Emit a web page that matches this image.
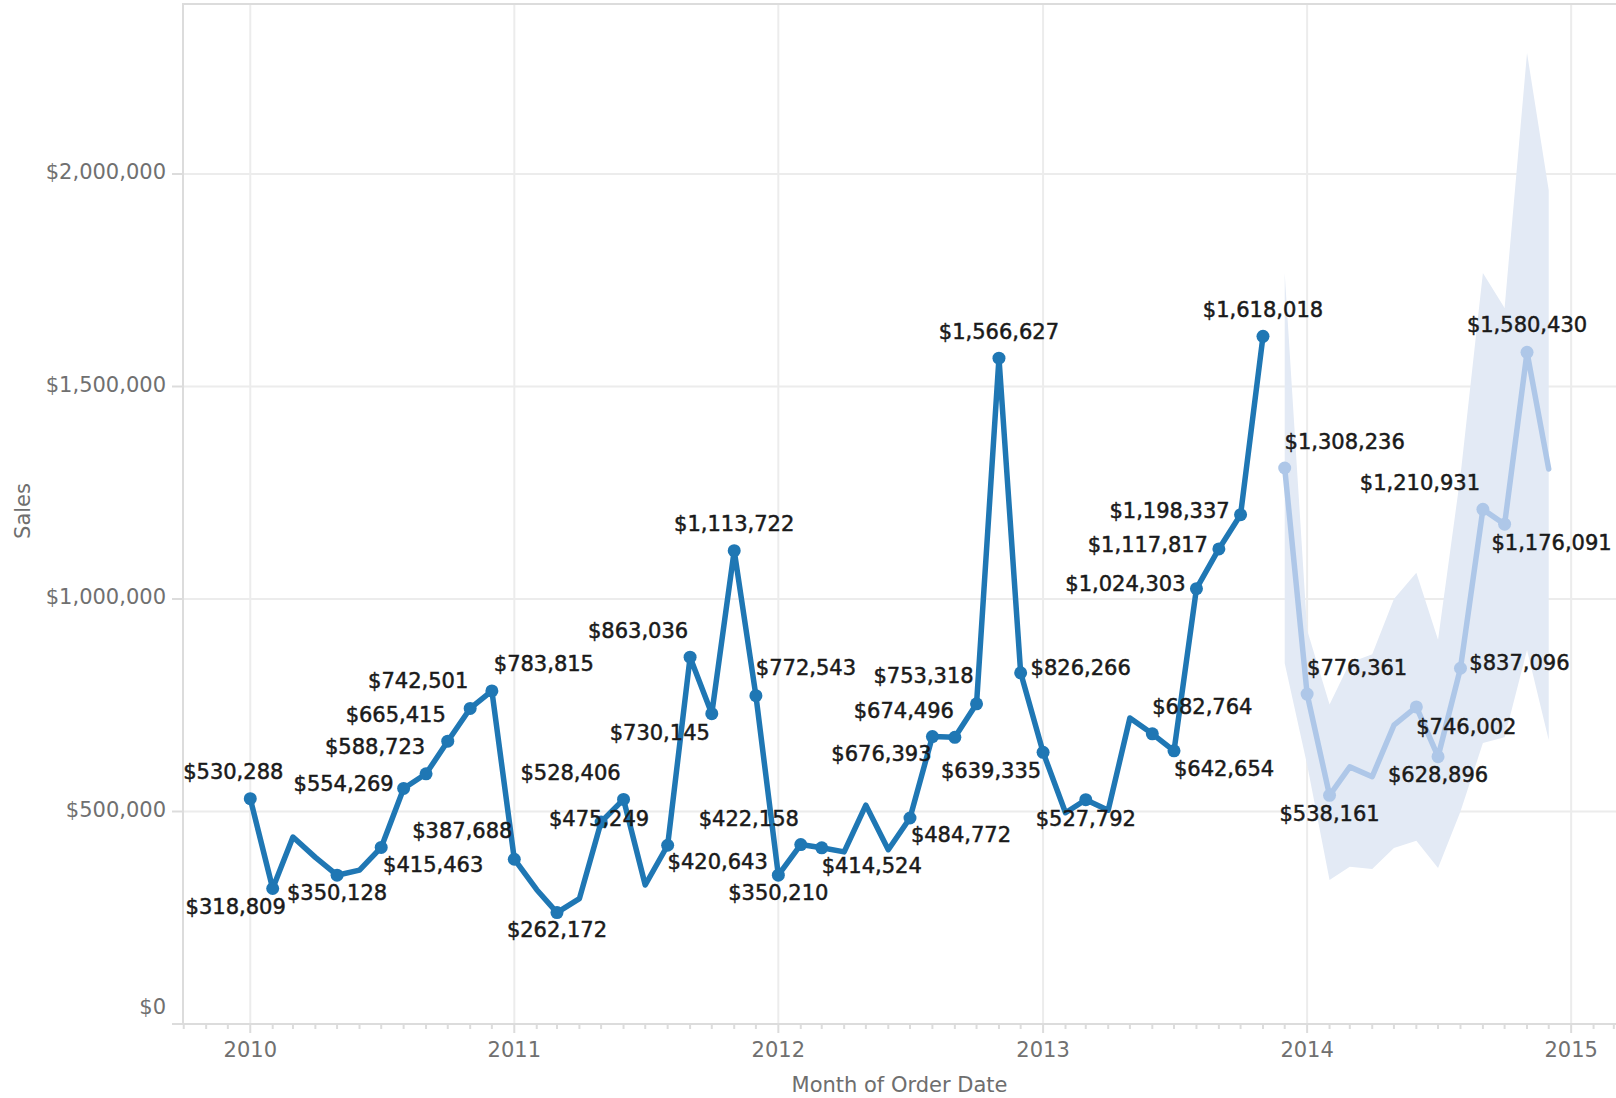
<!DOCTYPE html>
<html lang="en">
  <head>
    <meta charset="UTF-8" />
    <title>Sales by Month of Order Date with Forecast</title>
    <script src="https://d3js.org/d3.v7.min.js"></script>
    <style>
      body {
        margin: 0;
        padding: 0;
        background-color: #ffffff;
        font-family: "DejaVu Sans", Verdana, sans-serif;
      }

      .grid line {
        stroke: #ececec;
        stroke-width: 2px;
      }

      .frame {
        stroke: #dcdcdc;
        stroke-width: 2px;
      }

      .tick-label {
        font-size: 21px;
        fill: #707070;
      }

      .axis-title {
        font-size: 21px;
        fill: #6e6e6e;
      }

      .value-label {
        font-size: 21px;
        fill: #1a1a1a;
        stroke: #1a1a1a;
        stroke-width: 0.5px;
      }
    </style>
  </head>
  <body>
    <svg id="chart"></svg>

    <script>
      const width = 1616;
      const height = 1098;

      // Actual sales, Jan 2010 .. Nov 2013
      const actualStart = new Date(2010, 0, 1);
      const actualSales = [
        530288, 318809, 440000, 392000, 350128, 362000, 415463, 554269,
        588723, 665415, 742501, 783815,
        387688, 316000, 262172, 295000, 475249, 528406, 327000, 420643,
        863036, 730145, 1113722, 772543,
        350210, 422158, 414524, 405000, 515000, 410000, 484772, 676393,
        674496, 753318, 1566627, 826266,
        639335, 497000, 527792, 503000, 720000, 682764, 642654, 1024303,
        1117817, 1198337, 1618018,
      ];

      // Forecast, Dec 2013 .. Dec 2014, with prediction band
      const forecastStart = new Date(2013, 11, 1);
      const forecastSales = [
        1308236, 776361, 538161, 605000, 582000, 703000, 746002, 628896,
        837096, 1210931, 1176091, 1580430, 1306000,
      ];
      const forecastUpper = [
        1767000, 927000, 752000, 850000, 870000, 1000000, 1062000, 904000,
        1290000, 1767000, 1685000, 2285000, 1962000,
      ];
      const forecastLower = [
        849000, 610000, 339000, 370000, 365000, 414000, 431000, 367000,
        500000, 661000, 675000, 880000, 668000,
      ];

      const yTicks = [0, 500000, 1000000, 1500000, 2000000];
      const yearTicks = [2010, 2011, 2012, 2013, 2014, 2015];

      // which points carry a value label, and where the label sits (px from the mark)
      const actualLabelSpots = [
        [0, -17, -27], [1, -37, 18], [4, 0, 18], [6, 52, 18], [7, -60, -4],
        [8, -51, -27], [9, -52, -26], [10, -52, -27], [11, 52, -27],
        [12, -52, -28], [14, 0, 17], [16, -2, -3], [17, -53, -26],
        [19, 50, 17], [20, -52, -26], [21, -52, 19], [22, 0, -27],
        [23, 50, -28], [24, 0, 18], [25, -52, -26], [26, 50, 18],
        [30, 51, 17], [31, -51, 17], [32, -51, -26], [33, -53, -28],
        [34, 0, -26], [35, 60, -5], [36, -52, 19], [38, 0, 19],
        [41, 50, -27], [42, 50, 18], [43, -71, -5], [44, -71, -4],
        [45, -71, -4], [46, 0, -26],
      ];
      const forecastLabelSpots = [
        [0, 60, -26], [1, 50, -26], [2, 0, 19], [6, 50, 20], [7, 0, 18],
        [8, 59, -5], [9, -63, -26], [10, 47, 19], [11, 0, -27],
      ];

      const monthDate = (start, i) => d3.timeMonth.offset(start, i);

      const actual = actualSales.map((v, i) => ({
        date: monthDate(actualStart, i),
        value: v,
      }));
      const forecast = forecastSales.map((v, i) => ({
        date: monthDate(forecastStart, i),
        value: v,
        lo: forecastLower[i],
        hi: forecastUpper[i],
      }));

      const plot = { left: 183, right: width, top: 4, bottom: 1024 };

      const x = d3
        .scaleTime()
        .domain([new Date(2009, 8, 30), new Date(2015, 2, 4)])
        .range([plot.left, plot.right]);

      const y = d3
        .scaleLinear()
        .domain([0, 2400000])
        .range([plot.bottom, plot.top]);

      const fmt = d3.format("$,.0f");

      const svg = d3
        .select("#chart")
        .attr("width", width)
        .attr("height", height);

      // gridlines
      const grid = svg.append("g").attr("class", "grid");
      grid
        .selectAll(".hgrid")
        .data(yTicks.filter((d) => d > 0))
        .enter()
        .append("line")
        .attr("x1", plot.left)
        .attr("x2", plot.right)
        .attr("y1", (d) => y(d))
        .attr("y2", (d) => y(d));
      grid
        .selectAll(".vgrid")
        .data(yearTicks)
        .enter()
        .append("line")
        .attr("x1", (d) => x(new Date(d, 0, 1)))
        .attr("x2", (d) => x(new Date(d, 0, 1)))
        .attr("y1", plot.top)
        .attr("y2", plot.bottom);

      // forecast prediction band
      const band = d3
        .area()
        .x((d) => x(d.date))
        .y0((d) => y(d.lo))
        .y1((d) => y(d.hi));
      svg
        .append("path")
        .datum(forecast)
        .attr("d", band)
        .attr("fill", "#e3eaf5");

      // frame: top border, left axis, bottom axis
      svg
        .append("line")
        .attr("class", "frame")
        .attr("x1", plot.left)
        .attr("x2", plot.right)
        .attr("y1", plot.top)
        .attr("y2", plot.top);
      svg
        .append("line")
        .attr("class", "frame")
        .attr("x1", plot.left)
        .attr("x2", plot.left)
        .attr("y1", plot.top - 1)
        .attr("y2", plot.bottom);
      svg
        .append("line")
        .attr("class", "frame")
        .attr("x1", plot.left - 11)
        .attr("x2", plot.right)
        .attr("y1", plot.bottom)
        .attr("y2", plot.bottom);

      // y ticks + labels
      svg
        .selectAll(".ytick")
        .data(yTicks)
        .enter()
        .append("line")
        .attr("class", "frame")
        .attr("x1", plot.left - 11)
        .attr("x2", plot.left)
        .attr("y1", (d) => y(d))
        .attr("y2", (d) => y(d));
      svg
        .selectAll(".ylabel")
        .data(yTicks)
        .enter()
        .append("text")
        .attr("class", "tick-label")
        .attr("x", 166)
        .attr("y", (d) => (d === 0 ? y(d) - 17 : y(d) - 2))
        .attr("text-anchor", "end")
        .attr("dominant-baseline", "central")
        .text((d) => fmt(d));

      // month ticks on the bottom axis
      const months = d3.timeMonth.range(new Date(2009, 9, 1), new Date(2015, 3, 1));
      svg
        .selectAll(".xtick")
        .data(months)
        .enter()
        .append("line")
        .attr("class", "frame")
        .attr("x1", (d) => x(d))
        .attr("x2", (d) => x(d))
        .attr("y1", plot.bottom)
        .attr("y2", (d) => plot.bottom + (d.getMonth() === 0 ? 9 : 5));
      svg
        .selectAll(".xlabel")
        .data(yearTicks)
        .enter()
        .append("text")
        .attr("class", "tick-label")
        .attr("x", (d) => x(new Date(d, 0, 1)))
        .attr("y", 1050)
        .attr("text-anchor", "middle")
        .attr("dominant-baseline", "central")
        .text((d) => d);

      // axis titles
      svg
        .append("text")
        .attr("class", "axis-title")
        .attr("x", (plot.left + plot.right) / 2)
        .attr("y", 1085)
        .attr("text-anchor", "middle")
        .attr("dominant-baseline", "central")
        .text("Month of Order Date");
      svg
        .append("text")
        .attr("class", "axis-title")
        .attr("transform", `translate(23, 511) rotate(-90)`)
        .attr("text-anchor", "middle")
        .attr("dominant-baseline", "central")
        .text("Sales");

      const line = d3
        .line()
        .x((d) => x(d.date))
        .y((d) => y(d.value));

      svg
        .append("path")
        .datum(forecast)
        .attr("d", line)
        .attr("fill", "none")
        .attr("stroke", "#aec7e8")
        .attr("stroke-width", 5.5)
        .attr("stroke-linejoin", "round")
        .attr("stroke-linecap", "round");

      svg
        .append("path")
        .datum(actual)
        .attr("d", line)
        .attr("fill", "none")
        .attr("stroke", "#1f77b4")
        .attr("stroke-width", 5.5)
        .attr("stroke-linejoin", "round")
        .attr("stroke-linecap", "round");

      function drawLabels(series, spots, color) {
        const g = svg.append("g");
        spots.forEach(([i, dx, dy]) => {
          const d = series[i];
          g.append("circle")
            .attr("cx", x(d.date))
            .attr("cy", y(d.value))
            .attr("r", 6.5)
            .attr("fill", color);
        });
        spots.forEach(([i, dx, dy]) => {
          const d = series[i];
          g.append("text")
            .attr("class", "value-label")
            .attr("x", x(d.date) + dx)
            .attr("y", y(d.value) + dy)
            .attr("text-anchor", "middle")
            .attr("dominant-baseline", "central")
            .text(fmt(d.value));
        });
      }

      drawLabels(forecast, forecastLabelSpots, "#aec7e8");
      drawLabels(actual, actualLabelSpots, "#1f77b4");
    </script>
  </body>
</html>
